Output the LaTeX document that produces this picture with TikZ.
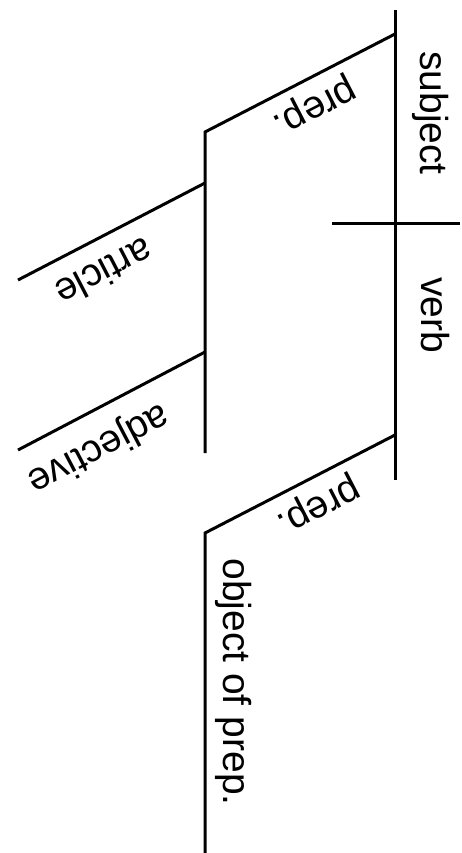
\documentclass[tikz,border=0pt]{standalone}
\usepackage{fontspec}
\setmainfont{Liberation Sans}
\begin{document}
\begin{tikzpicture}[x=1pt, y=-1pt, line width=3pt,
    word/.style={font=\fontsize{39}{47}\selectfont, inner sep=0pt},
    slantword/.style={word, sloped, allow upside down, text depth=0pt}]
            \useasboundingbox (0, 0) rectangle (462, 853);
            \coordinate (t) at (395, 10);
            \coordinate (v) at (395, 480);
            \coordinate (s) at (395, 34);
            \coordinate (q) at (395, 435);
            \coordinate (c) at (205, 132);
            \coordinate (d) at (205, 453);
            \coordinate (e) at (205, 533);
            \coordinate (f) at (205, 853);
            \coordinate (ar) at (205, 183);
            \coordinate (al) at (18, 280);
            \coordinate (jr) at (205, 352);
            \coordinate (jl) at (18, 450);
            \coordinate (xl) at (332, 223);
            \coordinate (xr) at (460, 223);
            \draw(t)--(v);
            \draw(xl)--(xr);
            \draw(s)--node[slantword, above=17pt, pos=.49](p1){prep.}(c)--(d);
            \draw(q)--node[slantword, above=17pt, pos=.47](p2){prep.}(e)--(f);
            \draw(ar)--node[slantword, above=18pt, pos=.62](art){article}(al);
            \draw(jr)--node[slantword, above=24pt, pos=.66](adj){adjective}(jl);
            \node[word, rotate=-90, anchor=base](subj) at (420, 113) {subject};
            \node[word, rotate=-90, anchor=base](verb) at (421, 315) {verb};
            \node[word, rotate=-90, anchor=base](obj) at (223, 682) {object of prep.};
        \end{tikzpicture}
\end{document}
